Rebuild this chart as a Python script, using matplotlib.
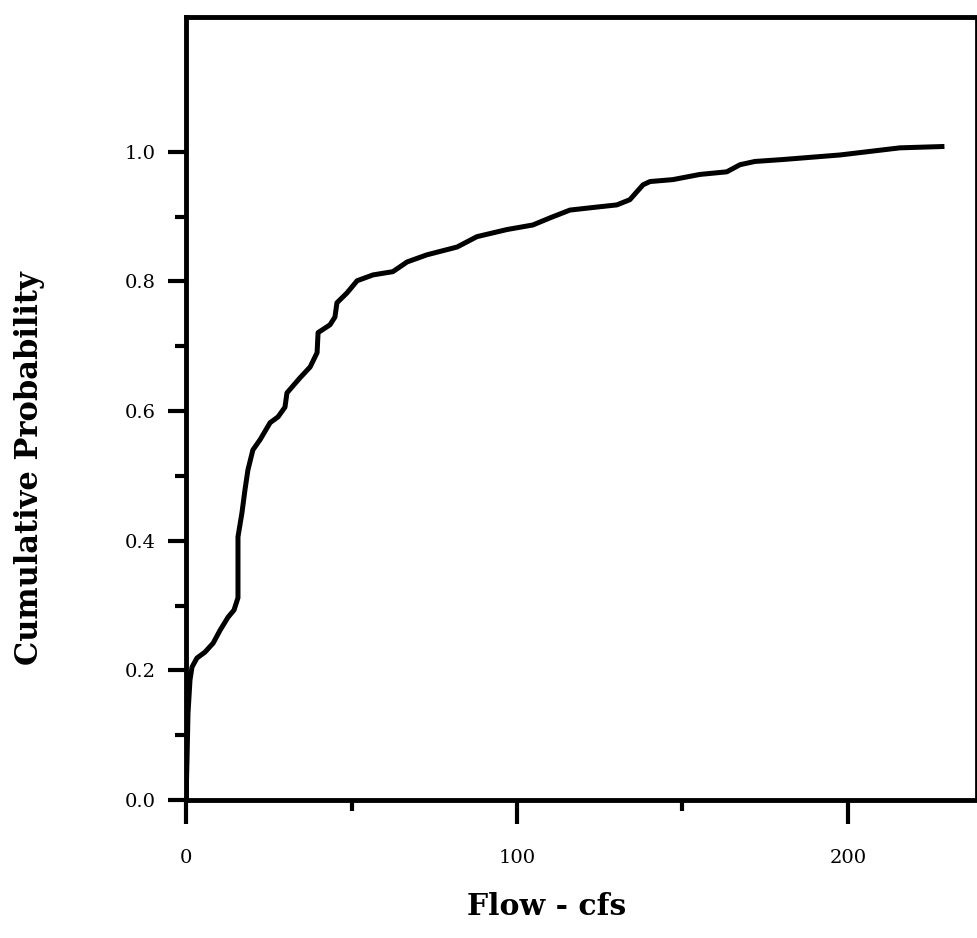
import matplotlib
matplotlib.use("Agg")
import matplotlib.pyplot as plt
from matplotlib.ticker import FixedLocator, MultipleLocator

flow = [0, 0.3, 0.6, 1.2, 1.8, 3.3, 5.7, 8.2, 10.3, 12.7, 14.5, 15.7, 15.7, 15.7,
        16.9, 17.8, 18.7, 20.2, 22.4, 25.4, 27.8, 29.9, 30.5, 34.4, 37.5, 39.6,
        39.9, 43.5, 45.0, 45.6, 48.6, 51.7, 56.5, 62.5, 66.8, 72.8, 81.9, 87.9,
        97.0, 104.8, 110.0, 116.0, 123.0, 130.2, 134.1, 138.1, 140.2, 147.1,
        155.3, 163.4, 167.4, 171.9, 180.4, 197.6, 215.7, 228.4]
prob = [0, 0.062, 0.134, 0.185, 0.205, 0.219, 0.228, 0.242, 0.262, 0.282, 0.293,
        0.312, 0.340, 0.406, 0.443, 0.478, 0.509, 0.540, 0.556, 0.582, 0.591,
        0.606, 0.628, 0.651, 0.668, 0.690, 0.721, 0.733, 0.745, 0.767, 0.782,
        0.801, 0.810, 0.815, 0.830, 0.841, 0.853, 0.869, 0.880, 0.887, 0.898,
        0.910, 0.914, 0.918, 0.926, 0.949, 0.954, 0.957, 0.965, 0.969, 0.980,
        0.985, 0.988, 0.995, 1.006, 1.008]

y_major = [0.0, 0.2, 0.4, 0.6, 0.8, 1.0]
y_minor = [0.1, 0.3, 0.5, 0.7, 0.9]

plt.rcParams["font.family"] = "DejaVu Serif"

fig = plt.figure(figsize=(9.77, 9.38), dpi=100)
ax = fig.add_axes([0.1904, 0.1471, 0.8086, 0.8349])

ax.plot(flow, prob, color="black", linewidth=3.6, solid_joinstyle="round")

ax.set_xlim(0, 238.7)
ax.set_ylim(0, 1.208)

ax.xaxis.set_major_locator(MultipleLocator(100))
ax.xaxis.set_minor_locator(FixedLocator([50, 150]))
ax.yaxis.set_major_locator(FixedLocator(y_major))
ax.yaxis.set_minor_locator(FixedLocator(y_minor))
ax.yaxis.set_major_formatter(plt.FuncFormatter(lambda v, p: f"{v:.1f}"))

for s in ax.spines.values():
    s.set_linewidth(3.5)
ax.spines["right"].set_linewidth(2)

ax.tick_params(axis="both", which="major", direction="out", width=3, labelsize=14)
ax.tick_params(axis="x", which="major", length=17, pad=18)
ax.tick_params(axis="y", which="major", length=13, pad=9)
ax.tick_params(axis="both", which="minor", direction="out", width=3, length=8)

ax.set_xlabel("Flow - cfs", fontsize=21.5, fontweight="bold", labelpad=16)
ax.xaxis.set_label_coords(0.457, -0.118)
ax.set_ylabel("Cumulative Probability", fontsize=22, fontweight="bold")
ax.yaxis.set_label_coords(-0.179, 0.424)

fig.savefig("out.png", dpi=100)
